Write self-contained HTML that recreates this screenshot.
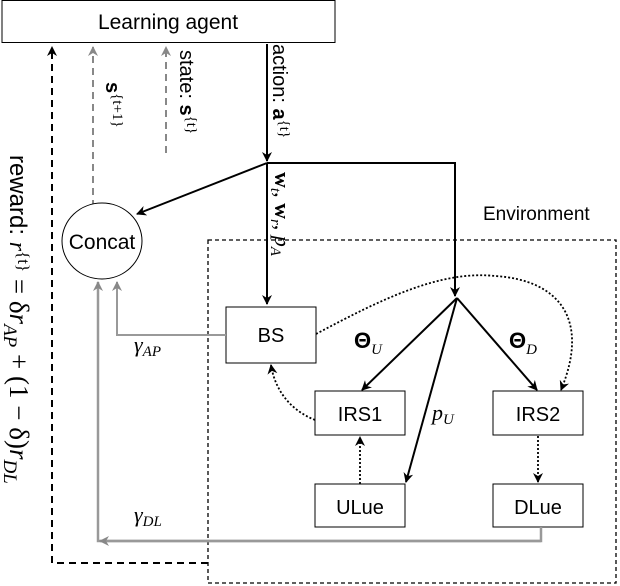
<!DOCTYPE html>
<html><head><style>body{margin:0;background:#fff}svg{display:block}</style></head><body>
<svg width="620" height="586" viewBox="0 0 620 586" xmlns="http://www.w3.org/2000/svg" font-family="Liberation Sans, sans-serif">
<defs>
<marker id="ab" markerWidth="10" markerHeight="10" refX="9" refY="5" orient="auto" markerUnits="userSpaceOnUse"><path d="M0,0 L10,5 L0,10 L3,5 z" fill="#000"/></marker>
<marker id="ag" markerWidth="10" markerHeight="10" refX="9" refY="5" orient="auto" markerUnits="userSpaceOnUse"><path d="M0,0 L10,5 L0,10 L3,5 z" fill="#888"/></marker>
</defs>
<rect x="2" y="0.5" width="333" height="42" fill="#fff" stroke="#000"/>
<text x="168" y="29" font-size="21" text-anchor="middle">Learning agent</text>
<rect x="208" y="240" width="408" height="343" fill="none" stroke="#000" stroke-width="1.3" stroke-dasharray="4,3"/>
<text x="483" y="220" font-size="19">Environment</text>
<path d="M208,563 H52 V47" fill="none" stroke="#000" stroke-width="2" stroke-dasharray="7,5" marker-end="url(#ab)"/>
<path d="M93,207 V47" fill="none" stroke="#888" stroke-width="2" stroke-dasharray="7,5" marker-end="url(#ag)"/>
<path d="M166,153 V47" fill="none" stroke="#888" stroke-width="2" stroke-dasharray="7,5" marker-end="url(#ag)"/>
<path d="M267,44 V161" stroke="#000" stroke-width="2" marker-end="url(#ab)"/>
<path d="M267,163 V304" stroke="#000" stroke-width="2" marker-end="url(#ab)"/>
<path d="M267,163 H455 V296" fill="none" stroke="#000" stroke-width="2" marker-end="url(#ab)"/>
<path d="M267,163 L137,214" stroke="#000" stroke-width="2" marker-end="url(#ab)"/>
<ellipse cx="102" cy="241" rx="40" ry="38" fill="#fff" stroke="#000"/>
<text x="102" y="249" font-size="21" text-anchor="middle">Concat</text>
<rect x="226" y="307" width="90" height="56" fill="#fff" stroke="#000"/>
<text x="271" y="342" font-size="20" text-anchor="middle">BS</text>
<rect x="315" y="391" width="90" height="44" fill="#fff" stroke="#000"/>
<text x="360" y="421" font-size="20" text-anchor="middle">IRS1</text>
<rect x="493" y="391" width="90" height="44" fill="#fff" stroke="#000"/>
<text x="538" y="421" font-size="20" text-anchor="middle">IRS2</text>
<rect x="315" y="484" width="90" height="43" fill="#fff" stroke="#000"/>
<text x="360" y="514" font-size="20" text-anchor="middle">ULue</text>
<rect x="493" y="484" width="90" height="43" fill="#fff" stroke="#000"/>
<text x="538" y="514" font-size="20" text-anchor="middle">DLue</text>
<path d="M226,335 H117 V282" fill="none" stroke="#999" stroke-width="2" marker-end="url(#ag)"/>
<path d="M541,527 V541 H98 V282" fill="none" stroke="#999" stroke-width="2.5" marker-end="url(#ag)"/>
<path d="M541,541 H100" fill="none" stroke="#999" stroke-width="2.5" marker-end="url(#ag)"/>
<path d="M457,298 L362,390" stroke="#000" stroke-width="2" marker-end="url(#ab)"/>
<path d="M457,298 L537,390" stroke="#000" stroke-width="2" marker-end="url(#ab)"/>
<path d="M457,298 L406,482" stroke="#000" stroke-width="2" marker-end="url(#ab)"/>
<path d="M316,334 C380,300 440,270 495,276 C560,280 590,320 561,390" fill="none" stroke="#000" stroke-width="1.8" stroke-dasharray="2,2" marker-end="url(#ab)"/>
<path d="M315,420 C290,410 275,390 271,365" fill="none" stroke="#000" stroke-width="1.8" stroke-dasharray="2,2" marker-end="url(#ab)"/>
<path d="M360,484 V437" stroke="#000" stroke-width="1.8" stroke-dasharray="2,2" marker-end="url(#ab)"/>
<path d="M538,436 V482" stroke="#000" stroke-width="1.8" stroke-dasharray="2,2" marker-end="url(#ab)"/>
<g font-family="Liberation Serif, serif" font-style="italic" font-size="22">
<text x="354" y="348" font-style="normal" font-weight="bold" font-family="Liberation Sans, sans-serif">Θ<tspan font-size="15" dy="6" font-style="italic" font-weight="normal" font-family="Liberation Serif, serif">U</tspan></text>
<text x="509" y="348" font-style="normal" font-weight="bold" font-family="Liberation Sans, sans-serif">Θ<tspan font-size="15" dy="6" font-style="italic" font-weight="normal" font-family="Liberation Serif, serif">D</tspan></text>
<text x="432" y="420">p<tspan font-size="15" dy="4">U</tspan></text>
<text x="134" y="352">γ<tspan font-size="15" dy="4">AP</tspan></text>
<text x="134" y="522">γ<tspan font-size="15" dy="4">DL</tspan></text>
</g>
<g font-size="20">
<text transform="translate(273,44) rotate(90)">action: <tspan font-weight="bold">a</tspan><tspan font-family="Liberation Serif, serif" font-size="15" dy="-7">{t}</tspan></text>
<text transform="translate(180,50) rotate(90)">state: <tspan font-weight="bold">s</tspan><tspan font-family="Liberation Serif, serif" font-size="15" dy="-7">{t}</tspan></text>
<text transform="translate(106,82) rotate(90)"><tspan font-weight="bold">s</tspan><tspan font-family="Liberation Serif, serif" font-size="15" dy="-7">{t+1}</tspan></text>
<text transform="translate(275,172) rotate(90)" font-family="Liberation Serif, serif" font-size="22"><tspan font-weight="bold">w</tspan><tspan font-style="italic" font-size="15" dy="4">t</tspan><tspan dy="-4">, </tspan><tspan font-weight="bold">w</tspan><tspan font-style="italic" font-size="15" dy="4">r</tspan><tspan dy="-4">, </tspan><tspan font-style="italic">p</tspan><tspan font-style="italic" font-size="15" dy="4">A</tspan></text>
<text transform="translate(10,155) rotate(90)" font-size="24">reward: <tspan font-family="Liberation Serif, serif" font-style="italic">r</tspan><tspan font-family="Liberation Serif, serif" font-size="17" dy="-8">{t}</tspan><tspan font-family="Liberation Serif, serif" dy="8" font-size="27"> = δ</tspan><tspan font-family="Liberation Serif, serif" font-style="italic" font-size="27">r</tspan><tspan font-family="Liberation Serif, serif" font-style="italic" font-size="19" dy="6">AP</tspan><tspan font-family="Liberation Serif, serif" dy="-6" font-size="27"> + (1 − δ)</tspan><tspan font-family="Liberation Serif, serif" font-style="italic" font-size="27">r</tspan><tspan font-family="Liberation Serif, serif" font-style="italic" font-size="19" dy="6">DL</tspan></text>
</g>
</svg>
</body></html>
